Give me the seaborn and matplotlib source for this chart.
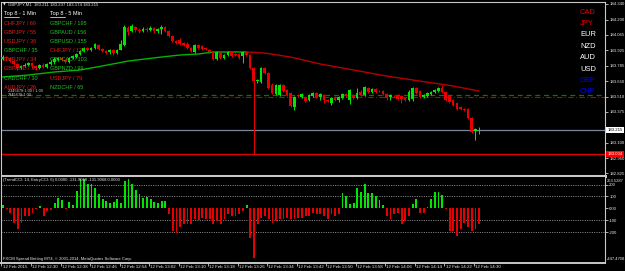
import numpy as np
import pandas as pd
import matplotlib
matplotlib.use("Agg")
import matplotlib.pyplot as plt
import matplotlib.transforms as mtransforms
from matplotlib.lines import Line2D
import seaborn as sns

# ---------------- data ----------------
opens = [183.847, 183.865, 183.856, 183.829, 183.803, 183.767, 183.785, 183.794, 183.811, 183.785,
         183.767, 183.794, 183.776, 183.803, 183.820, 183.838, 183.856, 183.838, 183.820, 183.856,
         183.865, 183.892, 183.919, 183.946, 183.928, 183.946, 183.972, 183.937, 183.919, 183.910,
         183.928, 183.901, 183.928, 183.972, 184.125, 184.098, 184.133, 184.107, 184.098, 184.116,
         184.107, 184.125, 184.098, 184.116, 184.133, 184.098, 184.053, 184.008, 184.017, 183.990,
         183.981, 183.946, 183.910, 183.972, 183.964, 183.946, 183.928, 183.910, 183.847, 183.901,
         183.856, 183.883, 183.910, 183.892, 183.892, 183.874, 183.910, 183.883, 183.767, 183.650,
         183.641, 183.767, 183.722, 183.615, 183.534, 183.525, 183.615, 183.570, 183.543, 183.418,
         183.525, 183.507, 183.507, 183.481, 183.516, 183.543, 183.507, 183.525, 183.481, 183.454,
         183.507, 183.481, 183.498, 183.534, 183.481, 183.525, 183.498, 183.552, 183.525, 183.588,
         183.552, 183.579, 183.561, 183.561, 183.534, 183.507, 183.516, 183.525, 183.516, 183.498,
         183.481, 183.489, 183.588, 183.561, 183.507, 183.516, 183.534, 183.552, 183.561, 183.588,
         183.552, 183.525, 183.481, 183.454, 183.418, 183.400, 183.400, 183.320, 183.203, 183.211]
highs = [183.883, 183.874, 183.865, 183.838, 183.811, 183.794, 183.811, 183.820, 183.820, 183.794,
         183.803, 183.811, 183.811, 183.838, 183.865, 183.865, 183.865, 183.847, 183.865, 183.883,
         183.901, 183.928, 183.955, 183.955, 183.955, 183.990, 183.981, 183.946, 183.928, 183.937,
         183.937, 183.937, 184.017, 184.151, 184.142, 184.160, 184.142, 184.125, 184.133, 184.133,
         184.142, 184.133, 184.125, 184.151, 184.142, 184.107, 184.062, 184.017, 184.035, 184.000,
         184.000, 183.955, 183.981, 183.981, 183.972, 183.955, 183.937, 183.919, 183.919, 183.910,
         183.892, 183.919, 183.919, 183.901, 183.901, 183.919, 183.919, 183.892, 183.776, 183.668,
         183.776, 183.776, 183.731, 183.633, 183.624, 183.624, 183.624, 183.579, 183.552, 183.516,
         183.534, 183.543, 183.516, 183.534, 183.552, 183.552, 183.543, 183.534, 183.489, 183.507,
         183.516, 183.516, 183.543, 183.543, 183.579, 183.534, 183.588, 183.570, 183.606, 183.597,
         183.588, 183.588, 183.570, 183.570, 183.543, 183.534, 183.525, 183.534, 183.525, 183.507,
         183.570, 183.597, 183.597, 183.570, 183.534, 183.552, 183.561, 183.579, 183.597, 183.615,
         183.561, 183.534, 183.489, 183.463, 183.427, 183.409, 183.409, 183.328, 183.230, 183.237]
lows = [183.838, 183.838, 183.820, 183.794, 183.749, 183.758, 183.776, 183.785, 183.767, 183.749,
        183.758, 183.767, 183.767, 183.794, 183.803, 183.829, 183.829, 183.811, 183.811, 183.847,
        183.856, 183.883, 183.910, 183.919, 183.919, 183.937, 183.928, 183.910, 183.892, 183.892,
        183.883, 183.892, 183.928, 183.964, 184.062, 184.089, 184.089, 184.080, 184.089, 184.089,
        184.098, 184.080, 184.080, 184.071, 184.089, 184.044, 184.000, 183.981, 183.972, 183.964,
        183.937, 183.910, 183.901, 183.937, 183.928, 183.928, 183.901, 183.838, 183.838, 183.847,
        183.847, 183.874, 183.865, 183.874, 183.847, 183.811, 183.874, 183.758, 182.998, 183.633,
        183.633, 183.713, 183.579, 183.534, 183.525, 183.516, 183.552, 183.516, 183.418, 183.391,
        183.507, 183.498, 183.463, 183.472, 183.507, 183.498, 183.481, 183.454, 183.463, 183.436,
        183.472, 183.463, 183.489, 183.507, 183.445, 183.489, 183.489, 183.516, 183.516, 183.543,
        183.543, 183.543, 183.552, 183.525, 183.481, 183.481, 183.507, 183.481, 183.454, 183.472,
        183.472, 183.472, 183.534, 183.498, 183.498, 183.507, 183.525, 183.543, 183.552, 183.543,
        183.472, 183.454, 183.427, 183.391, 183.391, 183.382, 183.311, 183.185, 183.123, 183.174]
closes = [183.865, 183.856, 183.829, 183.803, 183.767, 183.785, 183.794, 183.811, 183.785, 183.767,
          183.794, 183.776, 183.803, 183.820, 183.847, 183.856, 183.838, 183.820, 183.856, 183.874,
          183.892, 183.919, 183.946, 183.928, 183.946, 183.981, 183.937, 183.919, 183.901, 183.928,
          183.901, 183.928, 183.981, 184.133, 184.089, 184.142, 184.107, 184.098, 184.116, 184.107,
          184.125, 184.098, 184.116, 184.133, 184.098, 184.053, 184.008, 183.990, 183.981, 183.972,
          183.946, 183.919, 183.972, 183.946, 183.937, 183.937, 183.910, 183.847, 183.910, 183.856,
          183.883, 183.910, 183.874, 183.883, 183.856, 183.910, 183.883, 183.767, 183.650, 183.659,
          183.767, 183.722, 183.588, 183.543, 183.615, 183.615, 183.561, 183.525, 183.427, 183.507,
          183.516, 183.534, 183.472, 183.525, 183.543, 183.507, 183.534, 183.481, 183.472, 183.498,
          183.481, 183.507, 183.534, 183.516, 183.570, 183.498, 183.543, 183.525, 183.597, 183.552,
          183.579, 183.552, 183.558, 183.534, 183.498, 183.525, 183.513, 183.489, 183.489, 183.481,
          183.552, 183.588, 183.543, 183.507, 183.525, 183.543, 183.552, 183.570, 183.588, 183.552,
          183.481, 183.463, 183.436, 183.400, 183.400, 183.391, 183.320, 183.194, 183.221, 183.215]

# moving average read at a few bars (bar index, price)
ma_bars = [0, 7, 14, 21, 27, 34, 43, 48, 53, 57, 62, 66, 71, 78, 86, 95, 104, 113, 122, 129]
ma_vals = [183.686, 183.704, 183.731, 183.749, 183.785, 183.829, 183.865, 183.883, 183.892, 183.910,
           183.910, 183.910, 183.901, 183.865, 183.803, 183.749, 183.695, 183.650, 183.606, 183.561]
ma_turn = 11  # knot where the line turns from green (rising) to red (falling)

cci = [25, -8, -36, -120, -176, -120, -64, -64, -36, -8, 20, -64, -22, -14, 48, 90, 70, -3, 56, 25,
       146, 244, 244, 202, 202, 174, 118, 76, 62, 48, 56, 76, 48, 230, 244, 202, 154, 118, 90, 95,
       76, 56, 48, 62, 62, -50, -190, -204, -154, -134, -134, -134, -92, -100,
       -78, -92, -92, -134, -106, -134, -92, -50, -64, -64, -50, -22, 25, -246, -414, -134, -78, -64,
       -92, -120, -106, -92, -92, -78, -92, -92, -78, -78, -64, -64, -36, -50, -50, -64, -92, -50,
       -64, -50, 126, 104, 34, 48, 168, 137, 202, 126, 126, 104, 67, 25, -64, -92, -50, -36, -134,
       -106, -64, 34, 76,
       -36, -36, 14, 81, 140, 140, 109, -8, -190, -190, -232, -176, -120, -154, -190, -176, -129]

price_ticks = [184.340, 184.200, 184.065, 183.925, 183.785, 183.650, 183.510, 183.375, 183.100, 182.960, 182.825]
price_tick_labels = ["184.340", "184.200", "184.065", "183.925", "183.785", "183.650", "183.510",
                     "183.375", "183.100", "182.960", "182.825"]
bid_price = 183.215
low_line = 182.998
level_green = 183.528
level_red = 183.510

cci_ticks = [200, 100, 0, -100, -200]
cci_tick_labels = ["200", "100", "0.00", "-100", "-200"]

time_bars = [0, 8, 16, 24, 32, 40, 48, 56, 64, 72, 80, 88, 96, 104, 112, 120, 128]
time_labels = ["12 Feb 2015", "12 Feb 12:30", "12 Feb 12:38", "12 Feb 12:46", "12 Feb 12:54",
               "12 Feb 13:02", "12 Feb 13:10", "12 Feb 13:18", "12 Feb 13:26", "12 Feb 13:34",
               "12 Feb 13:42", "12 Feb 13:50", "12 Feb 13:58", "12 Feb 14:06", "12 Feb 14:14",
               "12 Feb 14:22", "12 Feb 14:30"]

top1_pairs = ["CHFJPY / 69", "GBPJPY / 55", "USDJPY / 36", "GBPCHF / 35", "EURJPY / 34",
              "GBPAUD / 30", "CADCHF / 30", "AUDJPY / 26"]
top1_up = [False, False, False, True, False, False, True, False]
top5_pairs = ["GBPCHF / 195", "GBPAUD / 156", "GBPUSD / 155", "CHFJPY / 131", "GBPCAD / 103",
              "GBPNZD / 99", "USDJPY / 79", "NZDCHF / 65"]
top5_up = [True, True, True, False, True, True, False, True]
currencies = ["CAD", "JPY", "EUR", "NZD", "AUD", "USD", "GBP", "CHF"]
currency_colors = ["#e60000", "#e60000", "white", "white", "white", "white", "#0000ff", "#0000ff"]

# ---------------- style ----------------
sns.set_theme(style="dark", rc={"axes.facecolor": "black", "figure.facecolor": "black",
                                "savefig.facecolor": "black"})
plt.rcParams['font.family'] = ['Liberation Sans', 'DejaVu Sans']

W, H = 625, 271
BULL, BEAR = "#00e600", "#e60000"
FRAME = "#c8c8c8"
TXT = "#e8e8e8"
SP, X0 = 3.694, 2.5           # pixels per bar, pixel of bar 0

fig = plt.figure(figsize=(W / 100, H / 100), dpi=100, facecolor="black")


def fx(px):
    return px / W


def fy(py):
    return 1 - py / H


def T(px, py, s, color=TXT, size=3.2, **kw):
    return fig.text(fx(px), fy(py), s, color=color, fontsize=size, ha=kw.pop("ha", "left"),
                    va=kw.pop("va", "center"), **kw)


left_px, right_px = 1.5, 605
ax = fig.add_axes([fx(left_px), fy(175.5), fx(right_px) - fx(left_px), fy(1.5) - fy(175.5)])
ax2 = fig.add_axes([fx(left_px), fy(262.5), fx(right_px) - fx(left_px), fy(177) - fy(262.5)])
xlim = ((left_px - X0) / SP, (right_px - X0) / SP)

for a in (ax, ax2):
    a.set_facecolor("black")
    a.set_xlim(*xlim)
    a.grid(False)
    for s in a.spines.values():
        s.set_color(FRAME)
        s.set_linewidth(0.8)

ax.set_ylim(182.805, 184.362)
ax.spines["bottom"].set_linewidth(2.2)
ax2.spines["top"].set_visible(False)
ax2.spines["bottom"].set_linewidth(1.4)

# ---------------- candles ----------------
df = pd.DataFrame({"o": opens, "h": highs, "l": lows, "c": closes})
df["bar"] = np.arange(len(df))
df["col"] = np.where(df["c"] >= df["o"], BULL, BEAR)
ax.vlines(df["bar"], df["l"], df["h"], colors=df["col"], lw=0.75, zorder=3)
body = (df["c"] - df["o"]).where((df["c"] - df["o"]).abs() > 0.002, 0.002 * np.sign(df["c"] - df["o"] + 1e-9))
ax.bar(df["bar"], body, bottom=df["o"], width=0.72, color=df["col"], linewidth=0, zorder=4)

# moving average (green while rising, red while falling)
ma = pd.DataFrame({"bar": ma_bars, "v": ma_vals})
sns.lineplot(data=ma.iloc[:ma_turn + 1], x="bar", y="v", color="#00b400", lw=1.0, ax=ax, zorder=2)
sns.lineplot(data=ma.iloc[ma_turn:], x="bar", y="v", color="#b40000", lw=1.0, ax=ax, zorder=2)

# horizontal levels
ax.axhline(level_green, color="#007a00", lw=0.9, ls=(0, (4, 3)), zorder=1)
ax.axhline(level_red, color="#c00000", lw=0.8, ls=(0, (5, 2, 1, 2)), zorder=1)
ax.axhline(bid_price, color="#7a8799", lw=0.9, zorder=1)
ax.axhline(low_line, color="#e00000", lw=1.0, zorder=1)

ax.set_xlabel("")
ax.set_ylabel("")
ax.set_xticks([])
ax.yaxis.tick_right()
ax.set_yticks(price_ticks)
ax.set_yticklabels(price_tick_labels)
ax.tick_params(axis="y", which="both", right=True, left=False, length=2, width=0.6, color=FRAME,
               labelcolor=TXT, labelsize=3.1, pad=1)

bt = mtransforms.blended_transform_factory(ax.transAxes, ax.transData)
ax.text(1.004, bid_price, "183.215", transform=bt, ha="left", va="center", fontsize=3.1, color="black",
        bbox=dict(boxstyle="square,pad=0.25", fc="white", ec="none"), zorder=10, clip_on=False)
ax.text(1.004, low_line, "183.004", transform=bt, ha="left", va="center", fontsize=3.1, color="white",
        bbox=dict(boxstyle="square,pad=0.25", fc="#ff0000", ec="none"), zorder=10, clip_on=False)

# ---------------- CCI histogram ----------------
cdf = pd.DataFrame({"bar": np.arange(len(cci)), "v": cci})
cdf["col"] = np.where(cdf["v"] > 0, BULL, BEAR)
ax2.set_ylim(-456, 264)
for lv in (200, 100, -100, -200):
    ax2.axhline(lv, color="#a8a8a8", lw=0.6, ls=(0, (1.2, 1.6)), zorder=1)
ax2.bar(cdf["bar"], cdf["v"], width=0.5, color=cdf["col"], linewidth=0, zorder=3)
ax2.set_xlabel("")
ax2.set_ylabel("")
ax2.yaxis.tick_right()
ax2.set_yticks(cci_ticks)
ax2.set_yticklabels(cci_tick_labels)
ax2.tick_params(axis="y", which="both", right=True, left=False, length=2, width=0.6, color=FRAME,
                labelcolor=TXT, labelsize=3.1, pad=1)
ax2.set_xticks([b - 0.4 for b in time_bars])
ax2.set_xticklabels([])
ax2.tick_params(axis="x", bottom=True, length=2.5, width=0.6, color=FRAME)
tb = mtransforms.blended_transform_factory(ax2.transData, fig.transFigure)
for b, lab in zip(time_bars, time_labels):
    ax2.text(b - 0.1, fy(267.5), lab, transform=tb, ha="left", va="center", fontsize=3.2, color=TXT,
             clip_on=False)

T(606.5, 180.5, "263.5287", size=3.0)
T(606.5, 259.5, "-447.4708", size=3.0)

# ---------------- texts ----------------
T(2.5, 4.5, "\u25bc", size=2.6, family="DejaVu Sans")
T(8, 4.5, "GBPJPY,M1  183.211 183.237 183.174 183.215", size=3.1)

T(4, 14, "Top 8 - 1 Min", size=4.0, color="white")
T(50, 14, "Top 8 - 5 Min", size=4.0, color="white")
fig.add_artist(Line2D([fx(4), fx(18.5)], [fy(17.2), fy(17.2)], color="white", lw=0.5))
fig.add_artist(Line2D([fx(50), fx(64.5)], [fy(17.2), fy(17.2)], color="white", lw=0.5))
rows_y = [23.3, 32.4, 41.6, 50.7, 59.9, 69.0, 78.2, 87.3]
for ry, s, up in zip(rows_y, top1_pairs, top1_up):
    T(4, ry, s, size=4.0, color="#22c322" if up else "#e01e1e")
for ry, s, up in zip(rows_y, top5_pairs, top5_up):
    T(50, ry, s, size=4.0, color="#22c322" if up else "#e01e1e")
T(8, 91.3, "2345678:1.00 / 1.00", size=2.8, color="#d0d0d0")
T(8, 95.0, "2345678:1.00", size=2.8, color="#d0d0d0")

cur_y = [12.3, 23.7, 35.0, 46.2, 57.6, 69.4, 80.7, 91.5]
for cy, s, c in zip(cur_y, currencies, currency_colors):
    T(580, cy, s, size=5.4, color=c)

T(3, 180.5, "(TrendCCI: 14, EntryCCI: 6) 0.0000 -131.9068 -131.9068 0.0000", size=3.0)
T(3, 259.3, "FXCM Spread Betting MT4, \u00a9 2001-2014, MetaQuotes Software Corp.", size=3.0)

fig.savefig("out.png", dpi=100, facecolor="black")
